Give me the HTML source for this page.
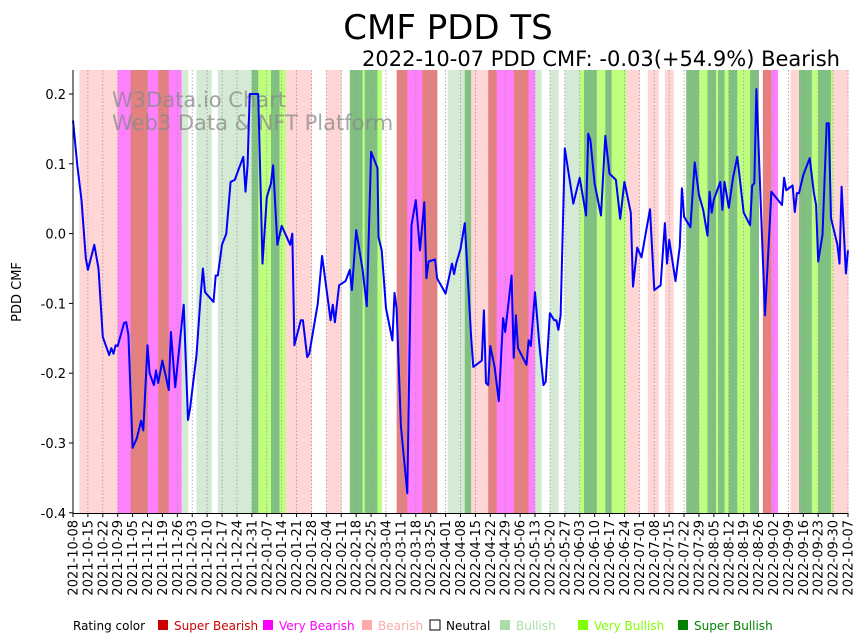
<!DOCTYPE html>
<html><head><meta charset="utf-8"><style>
html,body{margin:0;padding:0;background:#fff;width:864px;height:641px;overflow:hidden}
svg text{font-family:"DejaVu Sans","Liberation Sans",sans-serif}
</style></head><body>
<svg id="chart" width="864" height="641" xmlns="http://www.w3.org/2000/svg">
<text x="448" y="39" font-size="34" text-anchor="middle">CMF PDD TS</text>
<text x="840" y="66" font-size="21" text-anchor="end">2022-10-07 PDD CMF: -0.03(+54.9%) Bearish</text>
<g id="bands"></g>
<g id="grid"></g>
<text x="112" y="107" font-size="21" fill="#888" fill-opacity="0.75">W3Data.io Chart</text>
<text x="112" y="130" font-size="21" fill="#888" fill-opacity="0.75">Web3 Data &amp; NFT Platform</text>
<path id="line" fill="none" stroke="#0000ff" stroke-width="2" stroke-linejoin="round"/>
<line x1="73" y1="70" x2="73" y2="513.5" stroke="#000" stroke-width="1"/>
<line x1="72.5" y1="513.5" x2="848" y2="513.5" stroke="#000" stroke-width="1"/>
<g id="yticks"></g>
<g id="xticks"></g>
<text transform="translate(21,292) rotate(-90)" font-size="13" text-anchor="middle">PDD CMF</text>
<g id="legend"></g>
</svg>
<script>
const startDate = "2021-10-08";
const totalDays = 364;
const yTicks = [0.2, 0.1, 0.0, -0.1, -0.2, -0.3, -0.4];
const ratingNames = ["Neutral","Bearish","Very Bearish","Super Bearish","Bullish","Very Bullish","Super Bullish"];
const ratingColors = ["#ffffff","#ffd5d5","#ff80ff","#e58080","#d4ead4","#bfff80","#80c080"];
const legendColors = ["#ffffff","#ffaaaa","#ff00ff","#cc0000","#aaddaa","#7fff00","#008000"];
// bands: start day, end day, rating code
const bandStart = [3,21,27,35,40,43,45,51,58,68,84,87,93,97,100,119,130,136,137,143,152,157,164,176,184,187,195,199,207,214,217,224,231,238,240,246,250,253,260,270,278,288,294,298,302,303,306,308,312,318,324,328,337,341,347,350,356,357];
const bandEnd   = [21,27,35,40,43,45,51,54,65,84,87,93,97,100,112,126,136,137,143,145,157,164,171,184,187,195,199,207,214,217,220,228,238,240,246,250,253,260,266,275,282,294,298,302,303,306,308,312,318,322,328,331,341,347,350,356,357,364];
const bandCode  = [1,2,3,2,3,3,2,4,4,4,6,5,6,5,1,1,6,5,6,5,3,2,3,4,6,1,3,2,3,2,4,4,4,5,6,5,6,5,1,1,1,6,5,6,5,6,5,6,5,6,3,2,1,6,5,6,5,1];
// line series
const dayIdx = [0,2,4,6,7,10,12,14,17,18,19,20,21,24,25,26,28,30,32,33,35,36,38,39,40,42,45,46,48,52,54,55,58,60,61,62,66,67,68,70,72,74,76,78,80,81,82,83,87,89,91,93,94,96,98,102,103,104,107,108,110,111,115,117,121,122,123,125,128,130,131,133,136,138,140,143,143.5,145,147,150,151,152,154,157,159,161,163,165,166,167,170,171,175,178,179,180,182,184,187,188,192,193,194,195,196,198,200,202,203,206,207,208,209,213,214,215,217,219,221,222,224,226,227,228,229,231,235,238,241,242,243,245,248,250,252,255,257,259,262,263,265,267,271,273,276,278,279,280,283,285,286,287,290,292,294,296,298,299,300,301,304,305,306,308,310,312,315,318,319,320,321,325,328,333,334,335,338,339,340,341,343,346,348,349,350,352,354,355,356,359,360,361,363,364];
const cmfValues = [0.162,0.098,0.048,-0.035,-0.052,-0.016,-0.05,-0.148,-0.174,-0.164,-0.172,-0.16,-0.161,-0.128,-0.127,-0.145,-0.307,-0.293,-0.268,-0.282,-0.16,-0.2,-0.217,-0.196,-0.214,-0.182,-0.224,-0.141,-0.22,-0.102,-0.267,-0.25,-0.174,-0.088,-0.05,-0.084,-0.098,-0.06,-0.06,-0.016,0,0.074,0.077,0.094,0.11,0.06,0.098,0.2,0.2,-0.043,0.052,0.072,0.098,-0.016,0.011,-0.016,0,-0.16,-0.124,-0.124,-0.177,-0.172,-0.1,-0.032,-0.124,-0.102,-0.127,-0.074,-0.068,-0.052,-0.081,0.005,-0.052,-0.104,0.117,0.094,-0.005,-0.024,-0.107,-0.153,-0.085,-0.107,-0.276,-0.372,0.012,0.048,-0.024,0.045,-0.064,-0.04,-0.037,-0.064,-0.086,-0.043,-0.058,-0.043,-0.022,0.015,-0.148,-0.191,-0.182,-0.11,-0.214,-0.217,-0.161,-0.191,-0.24,-0.121,-0.141,-0.06,-0.178,-0.117,-0.164,-0.188,-0.153,-0.161,-0.084,-0.158,-0.217,-0.212,-0.114,-0.124,-0.124,-0.138,-0.117,0.122,0.043,0.08,0.026,0.143,0.134,0.072,0.026,0.14,0.086,0.077,0.021,0.074,0.03,-0.076,-0.02,-0.034,0.035,-0.081,-0.074,0.015,-0.043,-0.009,-0.068,-0.018,0.065,0.024,0.009,0.102,0.055,0.034,-0.003,0.06,0.03,0.049,0.074,0.034,0.074,0.037,0.08,0.11,0.03,0.012,0.069,0.072,0.207,-0.117,0.06,0.041,0.08,0.062,0.069,0.031,0.058,0.058,0.084,0.108,0.058,0.041,-0.04,-0.002,0.158,0.158,0.022,-0.016,-0.043,0.067,-0.057,-0.024];

const NS="http://www.w3.org/2000/svg";
const X0=73,X1=848,YTOP=70,YBOT=513;
const xScale=d=>X0+d*(X1-X0)/totalDays;
const yScale=v=>233.6-v*698;
function mk(tag,attrs,parent){const e=document.createElementNS(NS,tag);for(const k in attrs)e.setAttribute(k,attrs[k]);parent.appendChild(e);return e;}

const bands=document.getElementById('bands');
for(let i=0;i<bandStart.length;i++){
  const r=mk('rect',{x:xScale(bandStart[i]),y:YTOP,width:xScale(bandEnd[i])-xScale(bandStart[i])+0.3,height:YBOT-YTOP,fill:ratingColors[bandCode[i]]},bands);
  
  
}

const grid=document.getElementById('grid'),xt=document.getElementById('xticks');
const sd=new Date(startDate+"T00:00:00Z");
for(let d=0;d<=totalDays;d+=7){
  const x=xScale(d);
  const g=mk('line',{x1:x,y1:YTOP,x2:x,y2:YBOT,stroke:'#999','stroke-width':0.8,'stroke-dasharray':'1.5,2'},grid);
  
  
  mk('line',{x1:x,y1:YBOT,x2:x,y2:YBOT+4,stroke:'#000'},xt);
  const dt=new Date(sd.getTime()+d*86400000);
  const t=mk('text',{transform:`translate(${x+4.5},${YBOT+7}) rotate(-90)`,'font-size':13,'text-anchor':'end'},xt);
  t.textContent=dt.toISOString().slice(0,10);
  
  
}
const yt=document.getElementById('yticks');
yTicks.forEach(v=>{
  const y=yScale(v);
  mk('line',{x1:X0-4,y1:y,x2:X0,y2:y,stroke:'#000'},yt);
  const t=mk('text',{x:X0-7,y:y+5,'font-size':13,'text-anchor':'end'},yt);
  t.textContent=v.toFixed(1);
  
  
});
let dstr='';
for(let i=0;i<dayIdx.length;i++){dstr+=(i?'L':'M')+xScale(dayIdx[i]).toFixed(1)+','+yScale(cmfValues[i]).toFixed(1);}
document.getElementById('line').setAttribute('d',dstr);

const lg=document.getElementById('legend');
const lt=mk('text',{x:73,y:630,'font-size':12},lg);lt.textContent='Rating color';


const order=[3,2,1,0,4,5,6];
const lx=[158,263,362,430,500,578,678];
const textCol={0:'#000',1:'#ffaaaa',2:'#ff00ff',3:'#cc0000',4:'#aaddaa',5:'#7fff00',6:'#008000'};
order.forEach((c,i)=>{
  const r=mk('rect',{x:lx[i],y:620,width:10,height:10,fill:legendColors[c],stroke:c===0?'#000':'none'},lg);
  
  
  const t=mk('text',{x:lx[i]+16,y:630,'font-size':12,fill:textCol[c]},lg);
  t.textContent=ratingNames[c];
  
  
});
</script>
</body></html>
